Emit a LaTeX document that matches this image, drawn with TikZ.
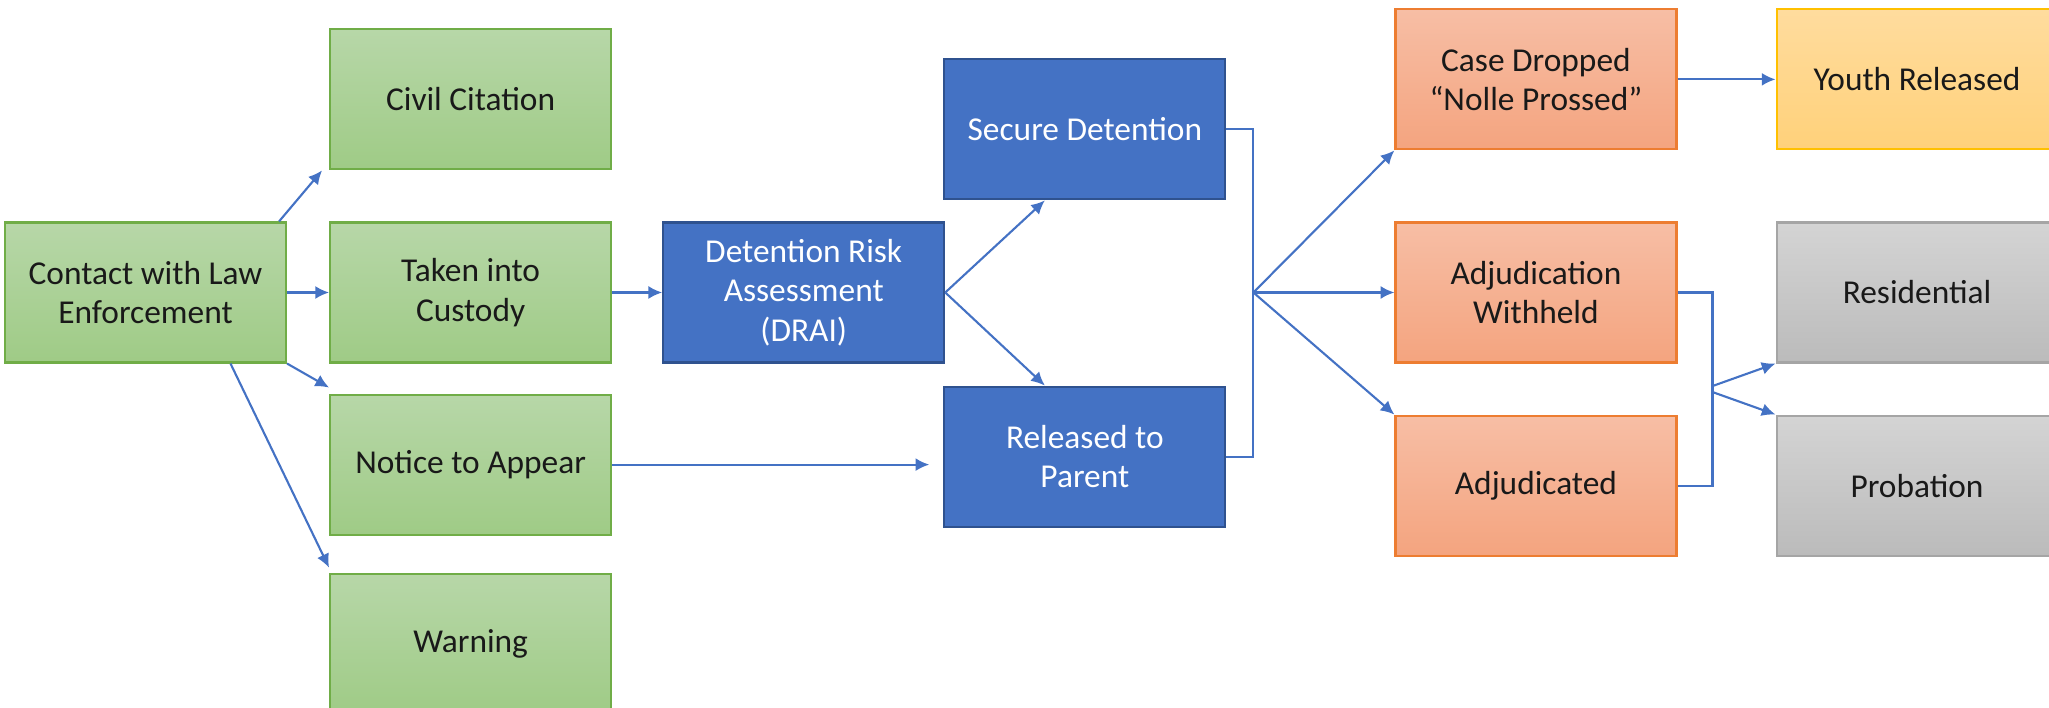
\documentclass[tikz,border=0pt]{standalone}
\usepackage{fontspec}
\setmainfont{Carlito}
\usetikzlibrary{positioning,calc,arrows.meta}
\definecolor{grnline}{HTML}{70AD47}
\definecolor{grntop}{HTML}{B7D7A8}
\definecolor{grnbot}{HTML}{9FCB86}
\definecolor{bluefill}{HTML}{4472C4}
\definecolor{blueline}{HTML}{2F528F}
\definecolor{orgline}{HTML}{ED7D31}
\definecolor{orgtop}{HTML}{F7BEA5}
\definecolor{orgbot}{HTML}{F4A47F}
\definecolor{ylwline}{HTML}{FFC000}
\definecolor{ylwtop}{HTML}{FFDC9E}
\definecolor{ylwbot}{HTML}{FFD17A}
\definecolor{gryline}{HTML}{A5A5A5}
\definecolor{grytop}{HTML}{D4D4D4}
\definecolor{grybot}{HTML}{BBBBBB}
\tikzstyle{box}=[rectangle,minimum width=2.81cm,minimum height=1.40cm,align=center,line width=0.6pt,font=\fontsize{9.5}{11.2}\selectfont,text=black!90]
\tikzstyle{greenbox}=[box,draw=grnline,top color=grntop,bottom color=grnbot]
\tikzstyle{bluebox}=[box,draw=blueline,fill=bluefill,text=white]
\tikzstyle{orangebox}=[box,draw=orgline,top color=orgtop,bottom color=orgbot]
\tikzstyle{yellowbox}=[box,draw=ylwline,top color=ylwtop,bottom color=ylwbot]
\tikzstyle{graybox}=[box,draw=gryline,top color=grytop,bottom color=grybot]
\tikzstyle{flow}=[line width=0.6pt,draw=bluefill]
\tikzstyle{arr}=[flow,-{Latex[length=3.9pt,width=3.7pt]}]

\begin{document}
\begin{tikzpicture}[node distance=0.42cm]
\useasboundingbox (0,0) rectangle (20.49,-7.08);
\node[greenbox] (contact) at (1.455,-2.925) {Contact with Law\\Enforcement};
\node[greenbox] (taken) [right=0.42cm of contact] {Taken into\\Custody};
\node[greenbox] (civil) [above=0.51cm of taken] {Civil Citation};
\node[greenbox] (notice) [below=0.30cm of taken] {Notice to Appear};
\node[greenbox] (warning) [below=0.37cm of notice] {Warning};
\node[bluebox] (drai) [right=0.50cm of taken] {Detention Risk\\Assessment\\(DRAI)};
\node[bluebox] (secure) [above right=0.21cm and -0.02cm of drai] {Secure Detention};
\node[bluebox] (released) [below right=0.22cm and -0.02cm of drai] {Released to\\Parent};
\node[orangebox] (dropped) [right=1.68cm of secure,yshift=0.5cm] {Case Dropped\\“Nolle Prossed”};
\node[orangebox] (withheld) [below=0.71cm of dropped] {Adjudication\\Withheld};
\node[orangebox] (adjudicated) [below=0.51cm of withheld] {Adjudicated};
\node[yellowbox] (youth) [right=0.98cm of dropped] {Youth Released};
\node[graybox] (residential) [right=0.98cm of withheld] {Residential};
\node[graybox] (probation) [right=0.98cm of adjudicated] {Probation};

\draw[arr] ([xshift=-0.08cm]contact.north east) -- ([xshift=-0.07cm]civil.south west);
\draw[arr] (contact) -- (taken);
\draw[arr] (contact.south east) -- ([yshift=0.06cm]notice.north west);
\draw[arr] ([xshift=0.85cm]contact.south) -- ([yshift=0.05cm]warning.north west);
\draw[arr] (taken) -- (drai);
\draw[arr] (notice) -- ($(released.west |- notice.east)+(-0.14,0)$);
\draw[arr] (drai.east) -- ([xshift=-0.4cm]secure.south);
\draw[arr] (drai.east) -- ([xshift=-0.4cm]released.north);
\coordinate (split1) at ($(secure.east |- withheld.west)+(0.27,0)$);
\draw[flow] (secure.east) -| (split1) |- (released.east);
\draw[arr] (split1) -- (dropped.south west);
\draw[arr] (split1) -- (withheld.west);
\draw[arr] (split1) -- (adjudicated.north west);
\draw[arr] (dropped) -- (youth);
\coordinate (split2) at ($(withheld.east)!0.5!(adjudicated.east)+(0.35,0)$);
\draw[flow] (withheld.east) -| (split2) |- (adjudicated.east);
\draw[arr] ([yshift=0.03cm]split2) -- (residential.south west);
\draw[arr] ([yshift=-0.03cm]split2) -- (probation.north west);
\end{tikzpicture}
\end{document}
